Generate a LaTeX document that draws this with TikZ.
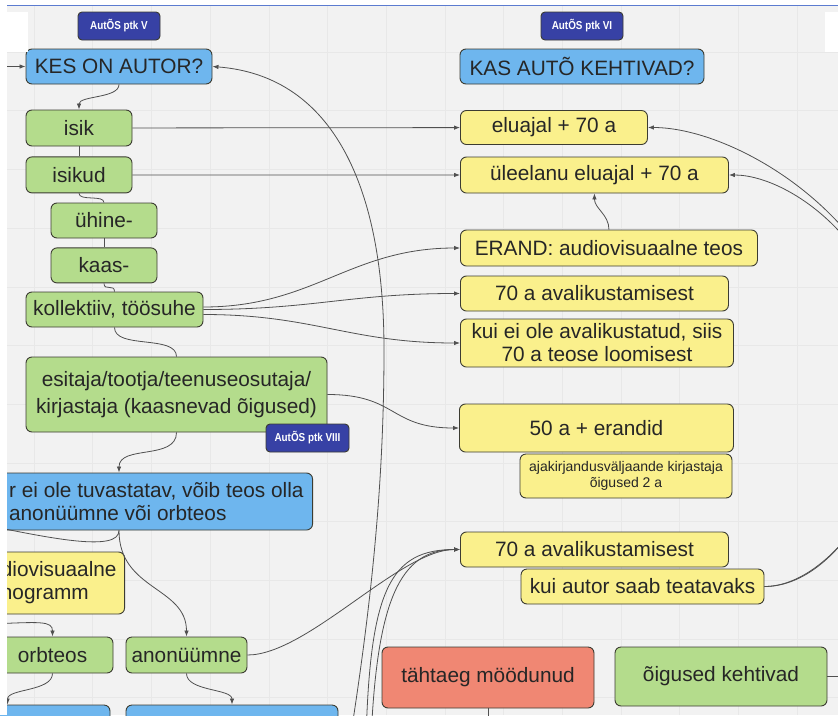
\documentclass[tikz,border=0pt]{standalone}
\usepackage{fontspec}
\setmainfont{Liberation Sans}
\newfontfamily\ptkfont[FakeStretch=0.86]{Liberation Sans}
\usetikzlibrary{arrows.meta,
                positioning,
                calc}

\definecolor{paper}{HTML}{F2F2F2}
\definecolor{gridc}{HTML}{E8E8E8}
\definecolor{topline}{HTML}{5B7BD0}
\definecolor{qblue}{HTML}{6EB6EE}
\definecolor{qgreen}{HTML}{B4DC8C}
\definecolor{qyellow}{HTML}{FAF08C}
\definecolor{qred}{HTML}{F08773}
\definecolor{ptkblue}{HTML}{3741A5}
\definecolor{rim}{HTML}{3C3C32}
\definecolor{wire}{HTML}{505050}

\begin{document}
\begin{tikzpicture}[
            x=1pt,y=-1pt,
            box/.style={
              draw=rim,
              line width=0.9pt,
              rounded corners=6pt,
              inner sep=0pt,
              align=center,
              text=black!85,
              font=\fontsize{20.8}{23}\selectfont
            },
            bluebox/.style={box,fill=qblue},
            greenbox/.style={box,fill=qgreen},
            yellowbox/.style={box,fill=qyellow},
            redbox/.style={box,fill=qred},
            ptk/.style={
              draw=rim,
              line width=0.9pt,
              rounded corners=4pt,
              fill=ptkblue,
              text=white,
              minimum width=82pt,
              minimum height=28pt,
              inner sep=0pt,
              font=\ptkfont\bfseries\fontsize{11.5}{13}\selectfont
            },
            wire/.style={draw=wire,line width=0.8pt},
            arr/.style={wire,-{Latex[length=6pt,width=4.5pt]}},
            gridline/.style={draw=gridc,line width=0.5pt}
            ]
            \useasboundingbox (0,0) rectangle (838,715);
            \clip (0,0) rectangle (838,715);
            % board
            \fill[white] (0,0) rectangle (838,715);
            \fill[paper] (7,6) rectangle (838,715);
            \foreach \gx in {0,...,13}
              \draw[gridline] ({34+58.7*\gx},6) -- ({34+58.7*\gx},715);
            \foreach \gy in {0,...,11}
              \draw[gridline] (7,{52+58.7*\gy}) -- (838,{52+58.7*\gy});

            % left column: who is the author
            \node[ptk] (ptkV) at (119,26) {AutÕS ptk V};
            \node[bluebox,minimum width=186pt,minimum height=35pt] (kes) at (119,66.5) {KES ON AUTOR?};
            \node[greenbox,minimum width=106pt,minimum height=36pt] (isik) at (79,128) {isik};
            \node[greenbox,minimum width=106pt,minimum height=36pt,below=10pt of isik] (isikud) {isikud};
            \node[greenbox,minimum width=106pt,minimum height=35pt] (yhine) at (104,220.5) {ühine-};
            \node[greenbox,minimum width=106pt,minimum height=35pt,below=9pt of yhine] (kaas) {kaas-};
            \node[greenbox,minimum width=177pt,minimum height=35pt] (koll) at (114.5,309.5) {kollektiiv, töösuhe};
            \node[greenbox,minimum width=301pt,minimum height=75pt,
                  font=\fontsize{20.8}{27}\selectfont] (esitaja) at (176.5,394.5)
              {esitaja/tootja/teenuseosutaja/\\kirjastaja (kaasnevad õigused)};
            \node[ptk,minimum width=83pt] (ptkVIII) at (307.5,438) {AutÕS ptk VIII};
            \node[bluebox,anchor=east,minimum height=57pt,inner xsep=9pt,align=left] (tuvast) at (313,501.5)
              {r ei ole tuvastatav, võib teos olla\\anonüümne või orbteos};
            \node[yellowbox,anchor=east,minimum height=62pt,inner xsep=8pt,align=left] (audio) at (125,583)
              {diovisuaalne\\nogramm};
            \node[greenbox,minimum width=121pt,minimum height=36pt] (orbteos) at (52.5,655) {orbteos};
            \node[greenbox,minimum width=121pt,minimum height=36pt] (anon) at (186.5,655) {anonüümne};
            \node[bluebox,minimum width=118pt,minimum height=40pt] (botL) at (51,725) {};
            \node[bluebox,minimum width=212pt,minimum height=40pt] (botR) at (232,725) {};

            % right column: are the rights valid
            \node[ptk] (ptkVI) at (582,26) {AutÕS ptk VI};
            \node[bluebox,minimum width=244pt,minimum height=35pt] (kas) at (582,66.5) {KAS AUTÕ KEHTIVAD?};
            \node[yellowbox,anchor=west,minimum width=187pt,minimum height=34pt] (elu) at (460,127.5) {eluajal + 70 a};
            \node[yellowbox,anchor=west,minimum width=268pt,minimum height=36pt] (ylee) at (460,175) {üleelanu eluajal + 70 a};
            \node[yellowbox,anchor=west,minimum width=297pt,minimum height=36pt] (erand) at (460,248) {ERAND: audiovisuaalne teos};
            \node[yellowbox,anchor=west,minimum width=268pt,minimum height=35pt] (av1) at (460,293.5) {70 a avalikustamisest};
            \node[yellowbox,anchor=west,minimum width=273pt,minimum height=48pt] (kuiei) at (460,343)
              {kui ei ole avalikustatud, siis\\70 a teose loomisest};
            \node[yellowbox,anchor=west,minimum width=274pt,minimum height=48pt] (fifty) at (459,428) {50 a + erandid};
            \node[yellowbox,minimum width=212pt,minimum height=44pt,
                  font=\fontsize{14}{16}\selectfont] (ajak) at (626,476)
              {ajakirjandusväljaande kirjastaja\\õigused 2 a};
            \node[yellowbox,anchor=west,minimum width=268pt,minimum height=35pt] (av2) at (460,549.5) {70 a avalikustamisest};
            \node[yellowbox,minimum width=243pt,minimum height=35pt] (kuiaut) at (642.5,586.5) {kui autor saab teatavaks};
            \node[redbox,minimum width=212pt,minimum height=61pt] (taht) at (488,677.5) {tähtaeg möödunud};
            \node[greenbox,minimum width=212pt,minimum height=59pt] (oig) at (721,676.5) {õigused kehtivad};

            % loose ends leaving the board
            \coordinate (inKes) at (-10,66.5);
            \coordinate (offA) at (-10,526);
            \coordinate (offB) at (-10,624);
            \coordinate (offC) at (366,740);
            \coordinate (offD) at (371,740);
            \coordinate (offE) at (350,740);
            \coordinate (arcTurn) at (384,350);
            \coordinate (offF) at (488,740);
            \coordinate (offK) at (850,676.5);
            \coordinate (loopA) at (905,380);
            \coordinate (loopB) at (898,385);

            % left column links
            \draw[arr] (inKes) -- (kes.west);
            \draw[arr] (kes.south) .. controls +(0,14) and +(0,-14) .. (isik.north);
            \draw[wire] (isik) -- (isikud);
            \draw[wire] (isikud.south) .. controls +(0,8) and +(0,-8) .. (yhine.north);
            \draw[wire] (yhine) -- (kaas);
            \draw[wire] (kaas.south) .. controls +(0,8) and +(0,-8) .. (koll.north);
            \draw[wire] (koll.south) .. controls +(0,22) and +(0,-22) .. (esitaja.north);
            \draw[arr] (esitaja.south) .. controls +(0,28) and +(0,-28) .. (tuvast.north -| kes.south);
            \draw[wire] (tuvast.south -| kes.south) .. controls +(0,22) and +(60,12) .. (offA);
            \draw[arr] (tuvast.south -| kes.south) .. controls +(0,60) and +(0,-50) .. (anon.north);
            \draw[arr] (offB) .. controls +(50,-2) and +(0,-16) .. (orbteos.north);
            \draw[arr] (orbteos.south) .. controls +(0,18) and +(0,-16) .. ($(botL.north west)+(16,0)$);
            \draw[arr] (anon.south) .. controls +(0,18) and +(0,-16) .. (botR.north);

            % across to the right column
            \draw[arr] (isik) -- (elu);
            \draw[arr] (isikud) -- (ylee);
            \draw[arr] ([yshift=2.5pt]koll.east) .. controls +(110,0) and +(-110,0) .. (erand.west);
            \draw[arr] (koll.east) .. controls +(110,0) and +(-110,0) .. (av1.west);
            \draw[arr] ([yshift=-5pt]koll.east) .. controls +(110,0) and +(-110,0) .. (kuiei.west);
            \draw[arr] (esitaja.east) .. controls +(70,0) and +(-70,0) .. (fifty.west);
            \draw[arr] (anon.east) .. controls +(60,0) and +(-60,0) .. (av2.west);
            \draw[arr] (offC) .. controls +(4,-150) and +(-70,0) .. (av2.west);
            \draw[arr] (offD) .. controls +(6,-140) and +(-60,0) .. (av2.west);
            \draw[arr] (offE) .. controls (372,600) and (384,480) .. (arcTurn)
                              .. controls (384,190) and (335,76) .. (kes.east);
            \draw[arr] (erand.north) .. controls +(0,-15) and +(0,15) .. (ylee.south);
            \draw[arr] (kuiaut.east) .. controls +(66,0) and +(0,100) .. (loopA)
                                    .. controls +(0,-150) and +(93,0) .. (elu.east);
            \draw[arr] (kuiaut.east) .. controls +(71,0) and +(0,95) .. (loopB)
                                    .. controls +(0,-135) and +(62,0) .. (ylee.east);
            \draw[wire] (taht) -- (offF);
            \draw[wire] (oig) -- (offK);

            % board frame
            \fill[white] (0,0) rectangle (7,715);
            \fill[white] (0,0) rectangle (838,5);
            \draw[topline,line width=0.9pt] (7,5.5) -- (838,5.5);
            \fill[white] (0,12) rectangle (28,52);
            \fill[white] (825,12) rectangle (838,52);
\end{tikzpicture}
\end{document}
